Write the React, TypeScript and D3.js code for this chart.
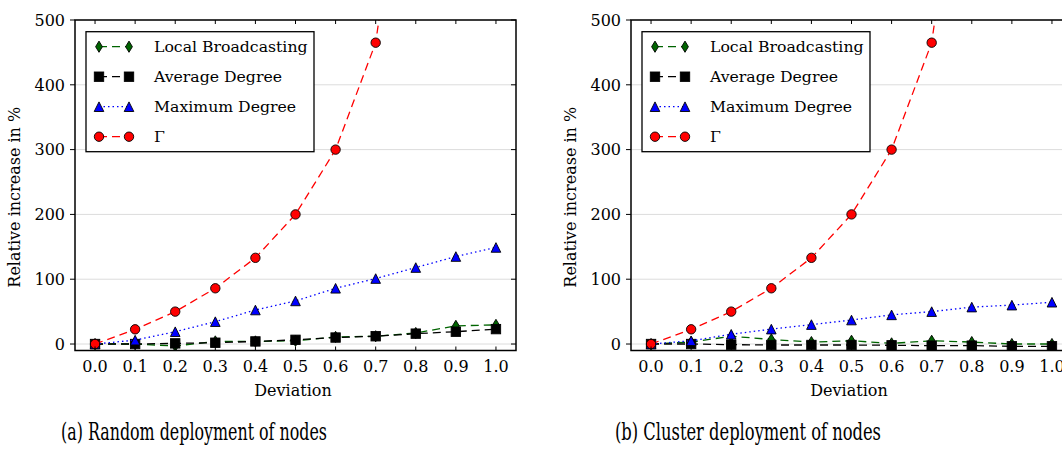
import React from "react";
import * as d3 from "d3";

// x values and ticks
const deviation = [0, 0.1, 0.2, 0.3, 0.4, 0.5, 0.6, 0.7, 0.8, 0.9, 1.0];
const yTicks = [0, 100, 200, 300, 400, 500];

// (a) random deployment
const randomLocal = [0, 0, -3, 4, 4, 5, 11, 12, 17, 28, 29.5];
const randomAverage = [0, 0, 1, 2, 4, 6.5, 10, 12, 16, 19, 23];
const randomMaximum = [0, 6, 19, 34.5, 52.5, 66.5, 86, 101, 118, 135, 149];
const randomGamma = [0, 22.7, 50, 86, 133, 200, 300, 465, 900, 1700, 3200];

// (b) cluster deployment
const clusterLocal = [0, 3, 12, 7, 3, 5, 1, 5, 3, 0, 0];
const clusterAverage = [0, 0, -1, -1.5, -1.5, -1.5, -2, -2.5, -2.5, -3.5, -3.5];
const clusterMaximum = [0, 5, 15, 23, 30, 37, 45, 50, 57, 60, 64.5];
const clusterGamma = [0, 22.7, 50, 86, 133, 200, 300, 465, 900, 1700, 3200];

const seriesNames = ["Local Broadcasting", "Average Degree", "Maximum Degree", "Γ"];

const W = 1062;
const H = 449;
const top = 20;
const bottom = 350.5;
const font = "DejaVu Serif, serif";

const styles = [
  { color: "#006400", dash: "8,5", marker: "diamond" },
  { color: "#000000", dash: "8,5", marker: "square" },
  { color: "#0000ff", dash: "1.5,3", marker: "triangle" },
  { color: "#ff0000", dash: "8,5", marker: "circle" },
];

const Marker = ({ type, x, y, color }: { type: string; x: number; y: number; color: string }) => {
  const edge = { stroke: "#000", strokeWidth: 0.9, fill: color };
  if (type === "circle") return <circle cx={x} cy={y} r={4.7} {...edge} />;
  if (type === "square") return <rect x={x - 4.7} y={y - 4.7} width={9.4} height={9.4} {...edge} />;
  if (type === "triangle")
    return <path d={`M${x},${y - 4.8}L${x + 4.8},${y + 4.8}L${x - 4.8},${y + 4.8}Z`} {...edge} />;
  return <path d={`M${x},${y - 5.6}L${x + 3.4},${y}L${x},${y + 5.6}L${x - 3.4},${y}Z`} {...edge} />;
};

const Panel = ({ id, left, caption, captionX, data }: any) => {
  const x = d3.scaleLinear().domain([-0.05, 1.05]).range([left, left + 441]);
  const y = d3.scaleLinear().domain([-10, 500]).range([bottom, top]);
  const line = (vals: number[]) =>
    d3.line<number>().x((d, i) => x(deviation[i])).y(d => y(d))(vals) || "";
  const right = x.range()[1];
  const lx = left + 11;
  const ly = top + 11.7;

  return (
    <g>
      <defs>
        <clipPath id={id}>
          <rect x={left} y={top} width={right - left} height={bottom - top} />
        </clipPath>
      </defs>
      {/* grid */}
      {yTicks.map(t => (
        <line key={t} x1={left} x2={right} y1={y(t)} y2={y(t)} stroke="#dcdcdc" strokeWidth={1} />
      ))}
      {/* series */}
      <g clipPath={`url(#${id})`}>
        {data.map((vals: number[], k: number) => (
          <g key={k}>
            <path d={line(vals)} fill="none" stroke={styles[k].color} strokeWidth={1.3} strokeDasharray={styles[k].dash} />
            {vals.map((v, i) => (
              <Marker key={i} type={styles[k].marker} x={x(deviation[i])} y={y(v)} color={styles[k].color} />
            ))}
          </g>
        ))}
      </g>
      {/* ticks */}
      {deviation.map(t => (
        <g key={t}>
          <line x1={x(t)} x2={x(t)} y1={top} y2={top + 4} stroke="#000" />
          <line x1={x(t)} x2={x(t)} y1={bottom} y2={bottom - 4} stroke="#000" />
          <text x={x(t)} y={372} textAnchor="middle" fontFamily={font} fontSize={16}>
            {t.toFixed(1)}
          </text>
        </g>
      ))}
      {yTicks.map(t => (
        <g key={t}>
          <line x1={left} x2={left - 5} y1={y(t)} y2={y(t)} stroke="#000" />
          <line x1={right} x2={right - 5} y1={y(t)} y2={y(t)} stroke="#000" />
          <text x={left - 10} y={y(t)} dy="0.36em" textAnchor="end" fontFamily={font} fontSize={16}>
            {t}
          </text>
        </g>
      ))}
      {/* spines */}
      <rect x={left} y={top} width={right - left} height={bottom - top} fill="none" stroke="#000" strokeWidth={1.5} />
      {/* axis labels */}
      <text x={left + 218} y={396} textAnchor="middle" fontFamily={font} fontSize={16}>
        Deviation
      </text>
      <text
        transform={`translate(${left - 55},${(top + bottom) / 2 + 12}) rotate(-90)`}
        textAnchor="middle"
        fontFamily={font}
        fontSize={16}
      >
        Relative increase in %
      </text>
      {/* legend */}
      <rect x={lx} y={ly} width={228} height={120} fill="#fff" stroke="#000" strokeWidth={1.3} />
      {seriesNames.map((name, k) => {
        const ry = ly + 15 + k * 30;
        return (
          <g key={name}>
            <line x1={lx + 13} x2={lx + 43} y1={ry} y2={ry} stroke={styles[k].color} strokeWidth={1.3} strokeDasharray={styles[k].dash} />
            <Marker type={styles[k].marker} x={lx + 13} y={ry} color={styles[k].color} />
            <Marker type={styles[k].marker} x={lx + 43} y={ry} color={styles[k].color} />
            <text x={lx + 68} y={ry} dy="0.36em" fontFamily={font} fontSize={15.7}>
              {name}
            </text>
          </g>
        );
      })}
      {/* caption */}
      <text
        x={captionX - 133}
        y={440}
        fontFamily={font}
        fontSize={24}
        textLength={266}
        lengthAdjust="spacingAndGlyphs"
      >
        {caption}
      </text>
    </g>
  );
};

export default function App() {
  return (
    <svg width={W} height={H} style={{ position: "absolute", left: 0, top: 0, background: "#fff" }}>
      <rect width={W} height={H} fill="#fff" />
      <Panel
        id="clipA"
        left={75}
        caption="(a) Random deployment of nodes"
        captionX={194}
        data={[randomLocal, randomAverage, randomMaximum, randomGamma]}
      />
      <Panel
        id="clipB"
        left={631}
        caption="(b) Cluster deployment of nodes"
        captionX={748}
        data={[clusterLocal, clusterAverage, clusterMaximum, clusterGamma]}
      />
    </svg>
  );
}
